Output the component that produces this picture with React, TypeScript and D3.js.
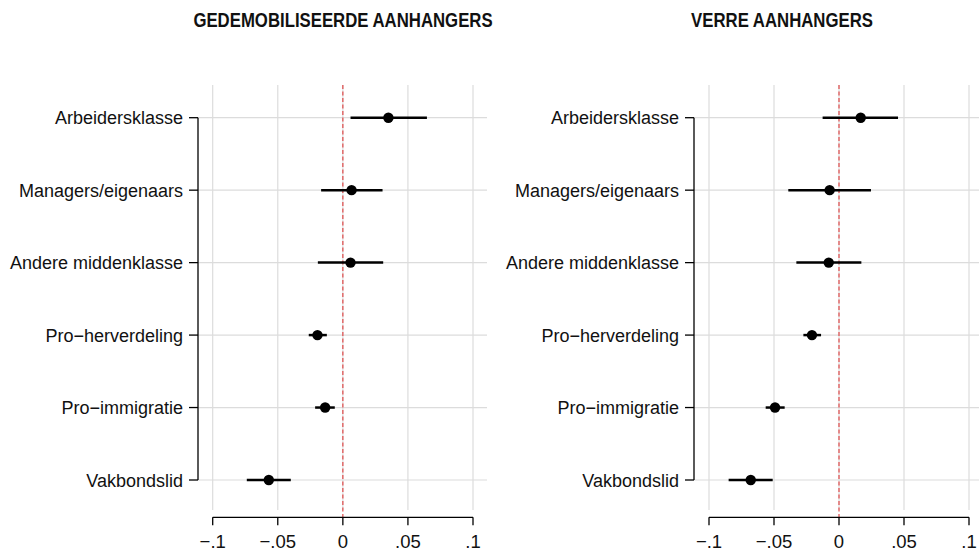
import React, { useEffect, useRef } from "react";
import * as d3 from "d3";

const categories = [
  "Arbeidersklasse",
  "Managers/eigenaars",
  "Andere middenklasse",
  "Pro\u2212herverdeling",
  "Pro\u2212immigratie",
  "Vakbondslid",
];

const panelTitles = ["GEDEMOBILISEERDE AANHANGERS", "VERRE AANHANGERS"];

// left panel: point estimates and 95% intervals
const demobEstimate = [0.035, 0.0067, 0.0059, -0.0195, -0.0136, -0.0569];
const demobLower = [0.0059, -0.0167, -0.0192, -0.0262, -0.0213, -0.0738];
const demobUpper = [0.0646, 0.0305, 0.031, -0.0123, -0.0062, -0.040];

// right panel
const distantEstimate = [0.0167, -0.0072, -0.0079, -0.0208, -0.0492, -0.0679];
const distantLower = [-0.0126, -0.039, -0.0328, -0.0274, -0.0564, -0.0849];
const distantUpper = [0.0454, 0.0246, 0.0172, -0.0138, -0.0418, -0.051];

const xTicks = [-0.1, -0.05, 0, 0.05, 0.1];
const xTickLabels = ["\u2212.1", "\u2212.05", "0", ".05", ".1"];

const FONT = "'Liberation Sans', Arial, sans-serif";

export default function App() {
  const ref = useRef<SVGSVGElement | null>(null);

  useEffect(() => {
    if (!ref.current) return;
    const svg = d3.select(ref.current);
    svg.selectAll("*").remove();

    const panels = [
      { title: panelTitles[0], titleX: 343, est: demobEstimate, lo: demobLower, hi: demobUpper, axisX: 198, x0: 212.7, x1: 473, gridEnd: 487 },
      { title: panelTitles[1], titleX: 782, est: distantEstimate, lo: distantLower, hi: distantUpper, axisX: 694, x0: 709, x1: 969, gridEnd: 979 },
    ];

    const y = d3.scalePoint<string>().domain(categories).range([117.7, 480]);

    panels.forEach((p) => {
      const x = d3.scaleLinear().domain([-0.1, 0.1]).range([p.x0, p.x1]);
      const g = svg.append("g");

      // title (condensed bold look)
      g.append("text")
        .attr("transform", `translate(${p.titleX},27.3) scale(0.86,1)`)
        .attr("text-anchor", "middle")
        .attr("font-family", FONT)
        .attr("font-weight", "bold")
        .attr("font-size", 19.5)
        .attr("fill", "#111")
        .text(p.title);

      // vertical grid
      g.selectAll(".vgrid")
        .data(xTicks)
        .enter()
        .append("line")
        .attr("x1", (d) => x(d))
        .attr("x2", (d) => x(d))
        .attr("y1", 85)
        .attr("y2", 510)
        .attr("stroke", "#dcdcdc")
        .attr("stroke-width", 1.2);

      // horizontal grid
      g.selectAll(".hgrid")
        .data(categories)
        .enter()
        .append("line")
        .attr("x1", p.axisX)
        .attr("x2", p.gridEnd)
        .attr("y1", (d) => y(d)!)
        .attr("y2", (d) => y(d)!)
        .attr("stroke", "#dcdcdc")
        .attr("stroke-width", 1.2);

      // zero reference line
      g.append("line")
        .attr("x1", x(0))
        .attr("x2", x(0))
        .attr("y1", 85)
        .attr("y2", 517)
        .attr("stroke", "#e04a4a")
        .attr("stroke-width", 1.2)
        .attr("stroke-dasharray", "4,2.5");

      // left axis
      g.append("line")
        .attr("x1", p.axisX)
        .attr("x2", p.axisX)
        .attr("y1", y(categories[0])!)
        .attr("y2", y(categories[categories.length - 1])!)
        .attr("stroke", "#000")
        .attr("stroke-width", 1.3);
      categories.forEach((c) => {
        g.append("line")
          .attr("x1", p.axisX - 9)
          .attr("x2", p.axisX)
          .attr("y1", y(c)!)
          .attr("y2", y(c)!)
          .attr("stroke", "#000")
          .attr("stroke-width", 1.3);
        g.append("text")
          .attr("x", p.axisX - 15)
          .attr("y", y(c)! + 6.6)
          .attr("text-anchor", "end")
          .attr("font-family", FONT)
          .attr("font-size", 18)
          .attr("fill", "#111")
          .text(c);
      });

      // bottom axis
      const axisY = 517.3;
      g.append("line")
        .attr("x1", x(-0.1))
        .attr("x2", x(0.1))
        .attr("y1", axisY)
        .attr("y2", axisY)
        .attr("stroke", "#000")
        .attr("stroke-width", 1.3);
      xTicks.forEach((t, i) => {
        g.append("line")
          .attr("x1", x(t))
          .attr("x2", x(t))
          .attr("y1", axisY)
          .attr("y2", axisY + 8)
          .attr("stroke", "#000")
          .attr("stroke-width", 1.3);
        g.append("text")
          .attr("x", x(t))
          .attr("y", 547.5)
          .attr("text-anchor", "middle")
          .attr("font-family", FONT)
          .attr("font-size", 18.5)
          .attr("fill", "#111")
          .text(xTickLabels[i]);
      });

      // intervals
      categories.forEach((c, i) => {
        g.append("line")
          .attr("x1", x(p.lo[i]))
          .attr("x2", x(p.hi[i]))
          .attr("y1", y(c)!)
          .attr("y2", y(c)!)
          .attr("stroke", "#000")
          .attr("stroke-width", 2.5);
        g.append("circle")
          .attr("cx", x(p.est[i]))
          .attr("cy", y(c)!)
          .attr("r", 5.2)
          .attr("fill", "#000");
      });
    });
  }, []);

  return (
    <svg
      ref={ref}
      width={979}
      height={551}
      style={{ position: "absolute", left: 0, top: 0, background: "#fff" }}
    />
  );
}
